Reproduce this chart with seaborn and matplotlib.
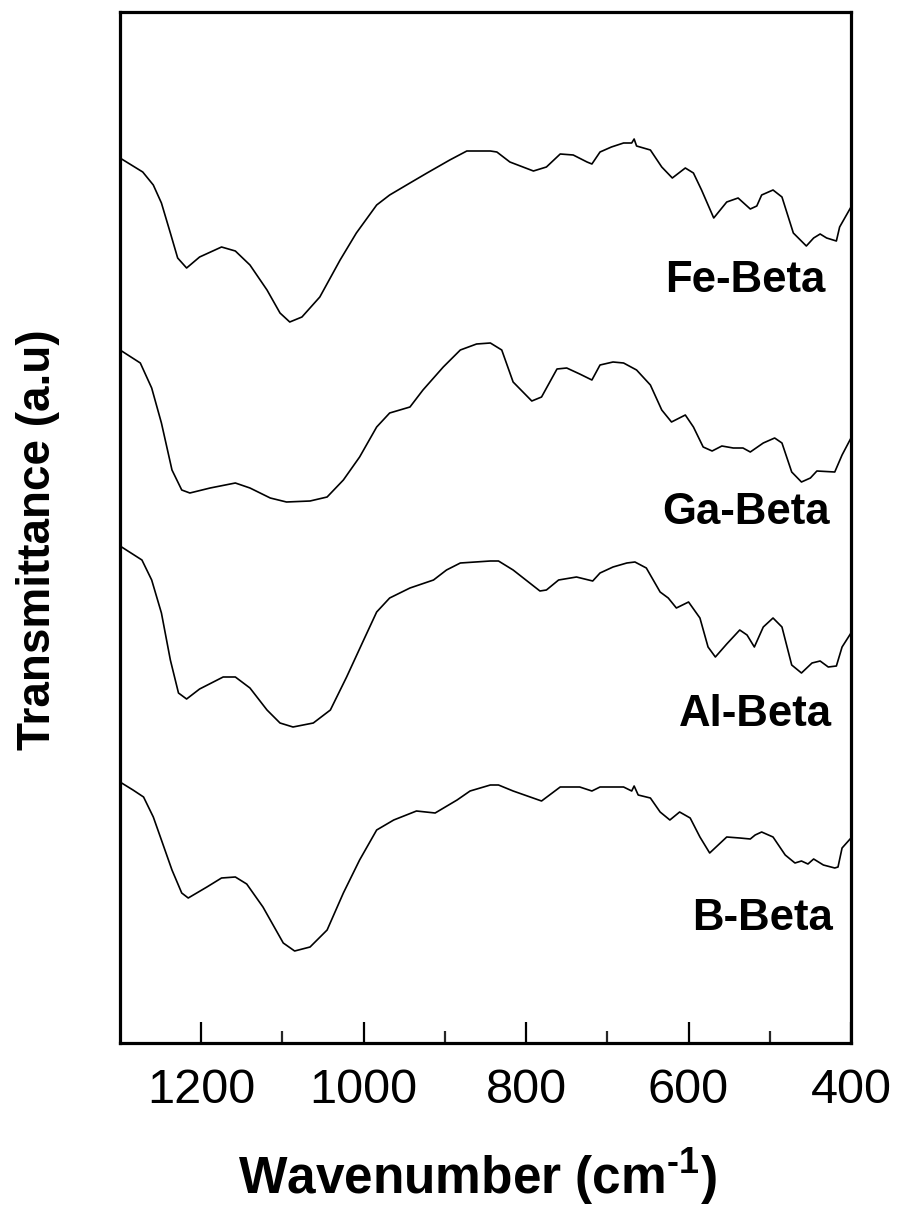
import numpy as np
import pandas as pd
import matplotlib
matplotlib.use("Agg")
import matplotlib.pyplot as plt
from matplotlib.ticker import FixedLocator
import seaborn as sns

# FT-IR spectra of metal-substituted Beta zeolites (stacked, arbitrary units)
fe_wn = [1298, 1272, 1259, 1249, 1238, 1229, 1218, 1202, 1175, 1158, 1140, 1119, 1103, 1091,
         1076, 1054, 1029, 1009, 984, 968, 943, 922, 894, 873, 844, 836, 820, 791, 775, 758,
         742, 725, 719, 709, 695, 680, 670, 667, 664, 647, 633, 620, 604, 594, 584, 569, 553,
         539, 524, 516, 510, 496, 485, 471, 455, 446, 438, 430, 418, 414, 400]
fe_t = [88.4, 87.1, 85.8, 84.0, 81.0, 78.5, 77.5, 78.6, 79.6, 79.2, 77.8, 75.3, 73.0, 72.1,
        72.6, 74.6, 78.3, 81.0, 83.8, 84.8, 86.0, 87.0, 88.3, 89.2, 89.2, 89.1, 88.1, 87.2, 87.6, 88.9,
        88.8, 88.1, 87.9, 89.1, 89.6, 90.0, 90.0, 90.4, 89.7, 89.3, 87.6, 86.5, 87.5, 87.0, 85.3, 82.5, 84.1,
        84.5, 83.4, 83.7, 84.8, 85.3, 84.6, 81.0, 79.7, 80.5, 80.9, 80.5, 80.2, 81.6, 83.6]

ga_wn = [1298, 1275, 1261, 1249, 1236, 1224, 1214, 1189, 1158, 1140, 1115, 1095, 1066, 1045,
         1025, 1005, 984, 968, 943, 927, 902, 881, 861, 844, 830, 816, 793, 781, 762, 750, 734,
         719, 709, 693, 680, 664, 647, 633, 621, 604, 594, 582, 571, 559, 545, 533, 524, 508,
         494, 485, 473, 461, 450, 442, 420, 411, 400]
ga_t = [69.2, 68.0, 65.5, 62.0, 57.3, 55.3, 55.0, 55.5, 56.0, 55.5, 54.5, 54.1, 54.2, 54.6,
        56.3, 58.6, 61.6, 63.0, 63.6, 65.3, 67.6, 69.3, 69.9, 70.0, 69.3, 66.1, 64.2, 64.6, 67.4, 67.5, 66.9,
        66.3, 67.8, 68.1, 68.0, 67.3, 65.8, 63.3, 62.1, 62.8, 61.6, 59.6, 59.2, 59.7, 59.5, 59.5, 59.1, 60.0,
        60.5, 60.0, 57.1, 56.1, 56.5, 57.2, 57.1, 58.8, 60.5]

al_wn = [1298, 1273, 1261, 1249, 1238, 1228, 1218, 1202, 1173, 1158, 1140, 1119, 1103, 1087,
         1062, 1041, 1021, 1000, 984, 968, 943, 914, 898, 881, 844, 834, 816, 783, 775, 760,
         738, 718, 709, 693, 676, 666, 652, 635, 625, 615, 600, 586, 576, 567, 553, 537, 528,
         519, 508, 496, 485, 473, 461, 448, 438, 428, 418, 411, 400]
al_t = [49.6, 48.3, 46.3, 43.0, 38.3, 35.0, 34.4, 35.4, 36.6, 36.6, 35.5, 33.3, 32.0, 31.6,
        32.0, 33.3, 36.6, 40.3, 43.1, 44.5, 45.5, 46.3, 47.3, 48.0, 48.2, 48.2, 47.3, 45.2, 45.3, 46.3,
        46.6, 46.2, 47.0, 47.6, 48.0, 48.1, 47.5, 45.1, 44.5, 43.5, 44.1, 42.5, 39.6, 38.6, 39.9, 41.3, 40.8,
        39.6, 41.6, 42.5, 41.6, 37.8, 37.0, 38.0, 38.2, 37.6, 37.7, 39.6, 41.0]

b_wn = [1298, 1284, 1271, 1259, 1249, 1236, 1224, 1216, 1193, 1175, 1158, 1144, 1124, 1099,
        1085, 1066, 1045, 1025, 1005, 984, 963, 935, 912, 885, 869, 844, 834, 816, 781, 758,
        734, 719, 709, 680, 670, 667, 662, 647, 635, 623, 611, 598, 586, 574, 553, 537, 524,
        518, 510, 496, 481, 469, 461, 453, 446, 434, 420, 416, 411, 400]
b_t = [26.0, 25.3, 24.6, 22.6, 20.3, 17.3, 15.0, 14.5, 15.6, 16.5, 16.6, 15.9, 13.6, 10.0,
       9.2, 9.6, 11.3, 15.0, 18.3, 21.3, 22.3, 23.2, 23.0, 24.3, 25.2, 25.8, 25.8, 25.2, 24.2, 25.6,
       25.6, 25.2, 25.6, 25.6, 25.2, 25.7, 24.8, 24.5, 23.1, 22.3, 23.1, 22.5, 20.6, 19.0, 20.6, 20.5, 20.4,
       20.8, 21.1, 20.6, 18.8, 18.0, 18.2, 17.9, 18.4, 17.8, 17.5, 17.6, 19.5, 20.5]

samples = ["Fe-Beta", "Ga-Beta", "Al-Beta", "B-Beta"]
xticks = [1200, 1000, 800, 600, 400]
minor_xticks = [1100, 900, 700, 500]

frames = []
for name, wn, t in zip(samples, [fe_wn, ga_wn, al_wn, b_wn], [fe_t, ga_t, al_t, b_t]):
    frames.append(pd.DataFrame({"wavenumber": wn, "transmittance": t, "sample": name}))
df = pd.concat(frames, ignore_index=True)

sns.set_theme(style="white")
plt.rcParams["font.family"] = ["Liberation Sans", "DejaVu Sans"]
plt.rcParams["mathtext.fontset"] = "custom"
plt.rcParams["mathtext.rm"] = "Liberation Sans"
plt.rcParams["mathtext.bf"] = "Liberation Sans:bold"

fig = plt.figure(figsize=(8.99, 12.16), dpi=100)
ax = fig.add_axes([120 / 899, 1 - 1043 / 1216, 731 / 899, 1031 / 1216])

sns.lineplot(data=df, x="wavenumber", y="transmittance", hue="sample", units="sample",
             estimator=None, palette=["black"] * 4, legend=False, linewidth=1.2, ax=ax)

ax.set_xlim(1300, 400)
ax.set_ylim(0, 103.1)

# sample names, right-aligned beneath the tail of each trace
label_pos = {"Fe-Beta": (431, 76.2), "Ga-Beta": (426, 53.1),
             "Al-Beta": (423, 32.8), "B-Beta": (422, 12.5)}
for name in samples:
    x, y = label_pos[name]
    ax.text(x, y, name, ha="right", va="center",
            fontsize=31.5, fontweight="bold", color="black")

ax.xaxis.set_major_locator(FixedLocator(xticks))
ax.xaxis.set_minor_locator(FixedLocator(minor_xticks))
ax.set_xticklabels([str(v) for v in xticks])
ax.set_yticks([])
ax.tick_params(axis="x", which="major", direction="in", length=15, width=1.6,
               labelsize=35, pad=18, colors="black", bottom=True, top=False)
ax.tick_params(axis="x", which="minor", direction="in", length=9, width=1.6,
               bottom=True, top=False)
for sp in ax.spines.values():
    sp.set_visible(True)
    sp.set_color("black")
    sp.set_linewidth(2.3)

ax.set_xlabel("Wavenumber (cm$^{\\mathbf{\u2010}\\mathbf{1}}$)", fontsize=37, fontweight="bold",
              va="center", color="black")
ax.xaxis.set_label_coords((477 - 120) / 731, (1043 - 1177) / 1031)
ax.set_ylabel("Transmittance (a.u)", fontsize=33, fontweight="bold",
              va="center", color="black")
ax.yaxis.set_label_coords((38 - 120) / 731, (1043 - 540) / 1031)

fig.savefig("out.png", dpi=100, facecolor="white")
